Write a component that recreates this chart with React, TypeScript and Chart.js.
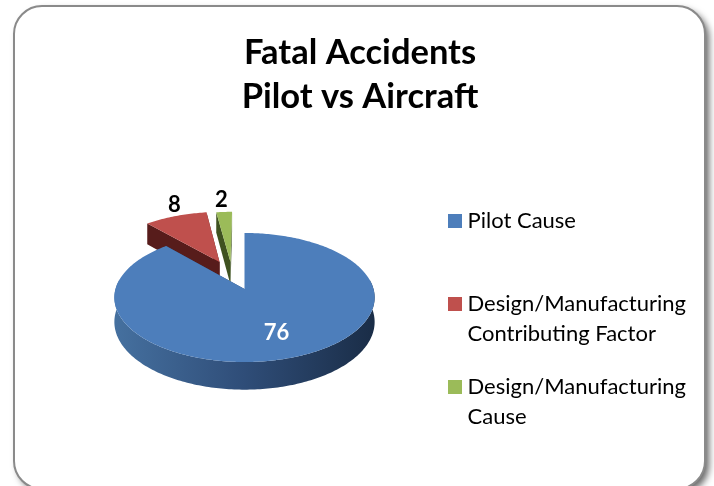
import React, { useEffect, useRef } from "react";
import { Chart, registerables } from "chart.js";

Chart.register(...registerables);

const titleLines = ["Fatal Accidents", "Pilot vs Aircraft"];
const categories = ["Pilot Cause", "Design/Manufacturing Contributing Factor", "Design/Manufacturing Cause"];
const legendLines = [["Pilot Cause", ""], ["Design/Manufacturing", "Contributing Factor"], ["Design/Manufacturing", "Cause"]];
const values = [76, 8, 2];
const topColors = ["#4d7ebb", "#bf504d", "#9bbb59"];
const wallColors = ["#2f4d78", "#571c1b", "#3f5220"];
const labelColors = ["#ffffff", "#000000", "#000000"];

// Explosion (unit-circle offsets) and label placement for each slice
const explodeU = [0, -0.205, -0.115];
const explodeV = [0, -0.45, -0.45];
const labelRadius = [0.66, 1.27, 1.3];
const labelTilt = [0, 4.5, 0];

const FONT = "Lato";
const CX = 244.5;
const R = 129;
const APEX_Y = 289;
const YA = 25.3;
const PERSP = -0.1318;
const DEPTH = 24;

function project(u: number, v: number, depth = 0) {
  const den = 1 + PERSP * v;
  return { x: CX + (R * u) / den, y: (YA * v + APEX_Y + depth) / den };
}

function swatch(color: string) {
  const c = document.createElement("canvas");
  c.width = 14;
  c.height = 14;
  const g = c.getContext("2d")!;
  g.fillStyle = color;
  g.fillRect(0, 0, 14, 14);
  return c;
}

const framePlugin = {
  id: "frame",
  beforeDraw(chart: any) {
    const ctx = chart.ctx;
    ctx.save();
    ctx.fillStyle = "#ffffff";
    ctx.fillRect(0, 0, chart.width, chart.height);
    ctx.beginPath();
    ctx.roundRect(14, 6, 691, 483, 28);
    ctx.shadowColor = "rgba(0,0,0,0.6)";
    ctx.shadowBlur = 7;
    ctx.shadowOffsetX = 4;
    ctx.shadowOffsetY = 4;
    ctx.fillStyle = "#ffffff";
    ctx.fill();
    ctx.shadowColor = "transparent";
    ctx.lineWidth = 2;
    ctx.strokeStyle = "#8a8a8a";
    ctx.stroke();
    ctx.restore();
  },
};

const pie3dPlugin = {
  id: "pie3d",
  beforeDatasetsDraw(chart: any) {
    const ctx = chart.ctx;
    const arcs = chart.getDatasetMeta(0).data;
    const STEP = Math.PI / 180;

    const poly = (pts: { x: number; y: number }[], fill: any) => {
      ctx.beginPath();
      pts.forEach((p, i) => (i ? ctx.lineTo(p.x, p.y) : ctx.moveTo(p.x, p.y)));
      ctx.closePath();
      ctx.fillStyle = fill;
      ctx.fill();
    };

    const drawOrder = [2, 1, 0];
    drawOrder.forEach((i) => {
      const a = arcs[i];
      const ou = explodeU[i];
      const ov = explodeV[i];
      const s = a.startAngle;
      const e = a.endAngle;
      const edge = (ang: number, depth = 0) => project(ou + Math.cos(ang), ov + Math.sin(ang), depth);
      const apex = (depth = 0) => project(ou, ov, depth);

      // radial walls
      poly([apex(), edge(e), edge(e, DEPTH), apex(DEPTH)], wallColors[i]);
      poly([apex(), edge(s), edge(s, DEPTH), apex(DEPTH)], wallColors[i]);

      // outer wall: the part of the rim that faces the viewer
      const frontFrom = -8 * STEP;
      const frontTo = 188 * STEP;
      const from = Math.max(s, frontFrom);
      const to = Math.min(e, frontTo);
      if (to > from) {
        const rim: { x: number; y: number }[] = [];
        for (let t = from; t <= to; t += STEP) rim.push(edge(t));
        for (let t = to; t >= from; t -= STEP) rim.push(edge(t, DEPTH));
        const grad = ctx.createLinearGradient(CX - R, 0, CX + R, 0);
        grad.addColorStop(0, "#45709f");
        grad.addColorStop(0.5, "#2f4d78");
        grad.addColorStop(1, "#1a2d47");
        poly(rim, grad);
      }

      // top face
      const face = [apex()];
      for (let t = s; t < e; t += STEP) face.push(edge(t));
      face.push(edge(e));
      poly(face, topColors[i]);
    });

    // value labels
    ctx.save();
    ctx.font = `bold 22px ${FONT}`;
    ctx.textAlign = "center";
    ctx.textBaseline = "middle";
    values.forEach((val, i) => {
      const a = arcs[i];
      const mid = (a.startAngle + a.endAngle) / 2 + (labelTilt[i] * Math.PI) / 180;
      const f = labelRadius[i];
      const p = project(explodeU[i] + f * Math.cos(mid), explodeV[i] + f * Math.sin(mid));
      ctx.fillStyle = labelColors[i];
      ctx.fillText(String(val), p.x - 1, p.y + 1);
    });
    ctx.restore();
    return false;
  },
};

export default function App() {
  const ref = useRef<HTMLCanvasElement>(null);
  useEffect(() => {
    const chart = new Chart(ref.current!, {
      type: "pie",
      data: {
        labels: categories,
        datasets: [{ data: values, backgroundColor: topColors }],
      },
      options: {
        animation: false,
        responsive: false,
        layout: { padding: { left: 24, right: 18, top: 0, bottom: 0 } },
        plugins: {
          tooltip: { enabled: false },
          title: {
            display: true,
            text: titleLines,
            color: "#000000",
            font: { family: FONT, size: 34.5, weight: "bold", lineHeight: 44 / 34.5 },
            padding: { top: 31, bottom: 67.5 },
          },
          legend: {
            display: true,
            position: "right",
            align: "start",
            fullSize: false,
            labels: {
              color: "#000000",
              font: { family: FONT, size: 22, lineHeight: 30 / 22 },
              padding: 23,
              usePointStyle: true,
              pointStyleWidth: 4,
              generateLabels: () =>
                legendLines.map((text, i) => ({
                  text,
                  pointStyle: swatch(topColors[i]),
                  fillStyle: topColors[i],
                  strokeStyle: topColors[i],
                  lineWidth: 0,
                  hidden: false,
                  index: i,
                })) as any,
            },
          },
        },
      } as any,
      plugins: [framePlugin, pie3dPlugin],
    });
    return () => chart.destroy();
  }, []);
  return (
    <div style={{ position: "absolute", left: 0, top: 0, width: 714, height: 486 }}>
      <canvas ref={ref} width={714} height={486} style={{ display: "block" }} />
    </div>
  );
}
